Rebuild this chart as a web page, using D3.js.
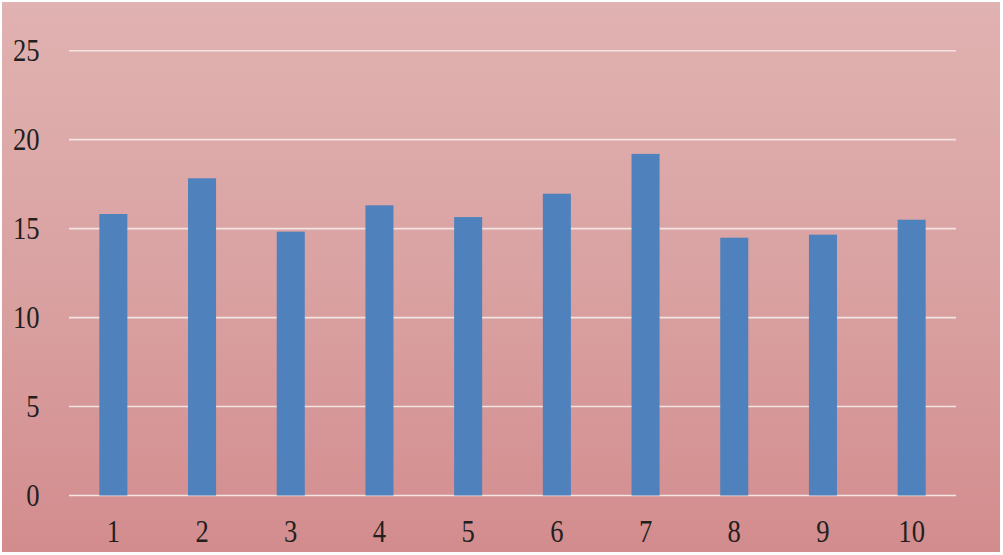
<!DOCTYPE html>
<html>
<head>
<meta charset="utf-8">
<script src="https://cdn.jsdelivr.net/npm/d3@7"></script>
<style>
html,body{margin:0;padding:0;background:#ffffff;}
svg{display:block;}
</style>
</head>
<body>
<svg id="chart" width="1003" height="555"></svg>
<script>
const categories = ["1","2","3","4","5","6","7","8","9","10"];
const values = [15.82, 17.83, 14.83, 16.31, 15.65, 16.96, 19.2, 14.49, 14.66, 15.5];
const yTicks = [0, 5, 10, 15, 20, 25];

const svg = d3.select("#chart");
const W = 1003, H = 555;
const margin = {left: 69, right: 47, top: 50.7, bottom: 59.5};
const plotRight = W - margin.right;
const plotBottom = H - margin.bottom;

const defs = svg.append("defs");
const grad = defs.append("linearGradient").attr("id","bg").attr("x1","0").attr("y1","0").attr("x2","0").attr("y2","1");
grad.append("stop").attr("offset","0%").attr("stop-color","#e0b2b1");
grad.append("stop").attr("offset","50%").attr("stop-color","#daa2a2");
grad.append("stop").attr("offset","100%").attr("stop-color","#d38c8e");

svg.append("rect").attr("x",2).attr("y",2).attr("width",998).attr("height",550).attr("fill","url(#bg)");

const x = d3.scaleBand().domain(categories).range([margin.left, plotRight]).paddingInner(0.684).paddingOuter(0.342);
const y = d3.scaleLinear().domain([0, 25]).range([plotBottom, margin.top]);

// gridlines
svg.append("g").selectAll("line").data(yTicks).join("line")
  .attr("x1", margin.left).attr("x2", plotRight)
  .attr("y1", d => y(d)).attr("y2", d => y(d))
  .attr("stroke", "#f3e4e4").attr("stroke-width", 1.6);

// bars
svg.append("g").selectAll("rect").data(values).join("rect")
  .attr("x", (d,i) => x(categories[i]))
  .attr("width", x.bandwidth())
  .attr("y", d => y(d))
  .attr("height", d => y(0) - y(d))
  .attr("fill", "#4f81bd");

// y labels
const fontFam = "'Liberation Serif', 'Times New Roman', serif";
svg.append("g").selectAll("g").data(yTicks).join("g")
  .attr("transform", d => `translate(39.5,${y(d)})`)
  .append("text")
  .attr("transform","scale(0.95,1.1)")
  .attr("text-anchor","end")
  .attr("dominant-baseline","central")
  .attr("font-family", fontFam)
  .attr("font-size", 28)
  .attr("fill","#231f20")
  .text(d => d);

// x labels
svg.append("g").selectAll("g").data(categories).join("g")
  .attr("transform", d => `translate(${x(d) + x.bandwidth()/2},531)`)
  .append("text")
  .attr("transform","scale(0.95,1.1)")
  .attr("text-anchor","middle")
  .attr("dominant-baseline","central")
  .attr("font-family", fontFam)
  .attr("font-size", 28)
  .attr("fill","#231f20")
  .text(d => d);
</script>
</body>
</html>
